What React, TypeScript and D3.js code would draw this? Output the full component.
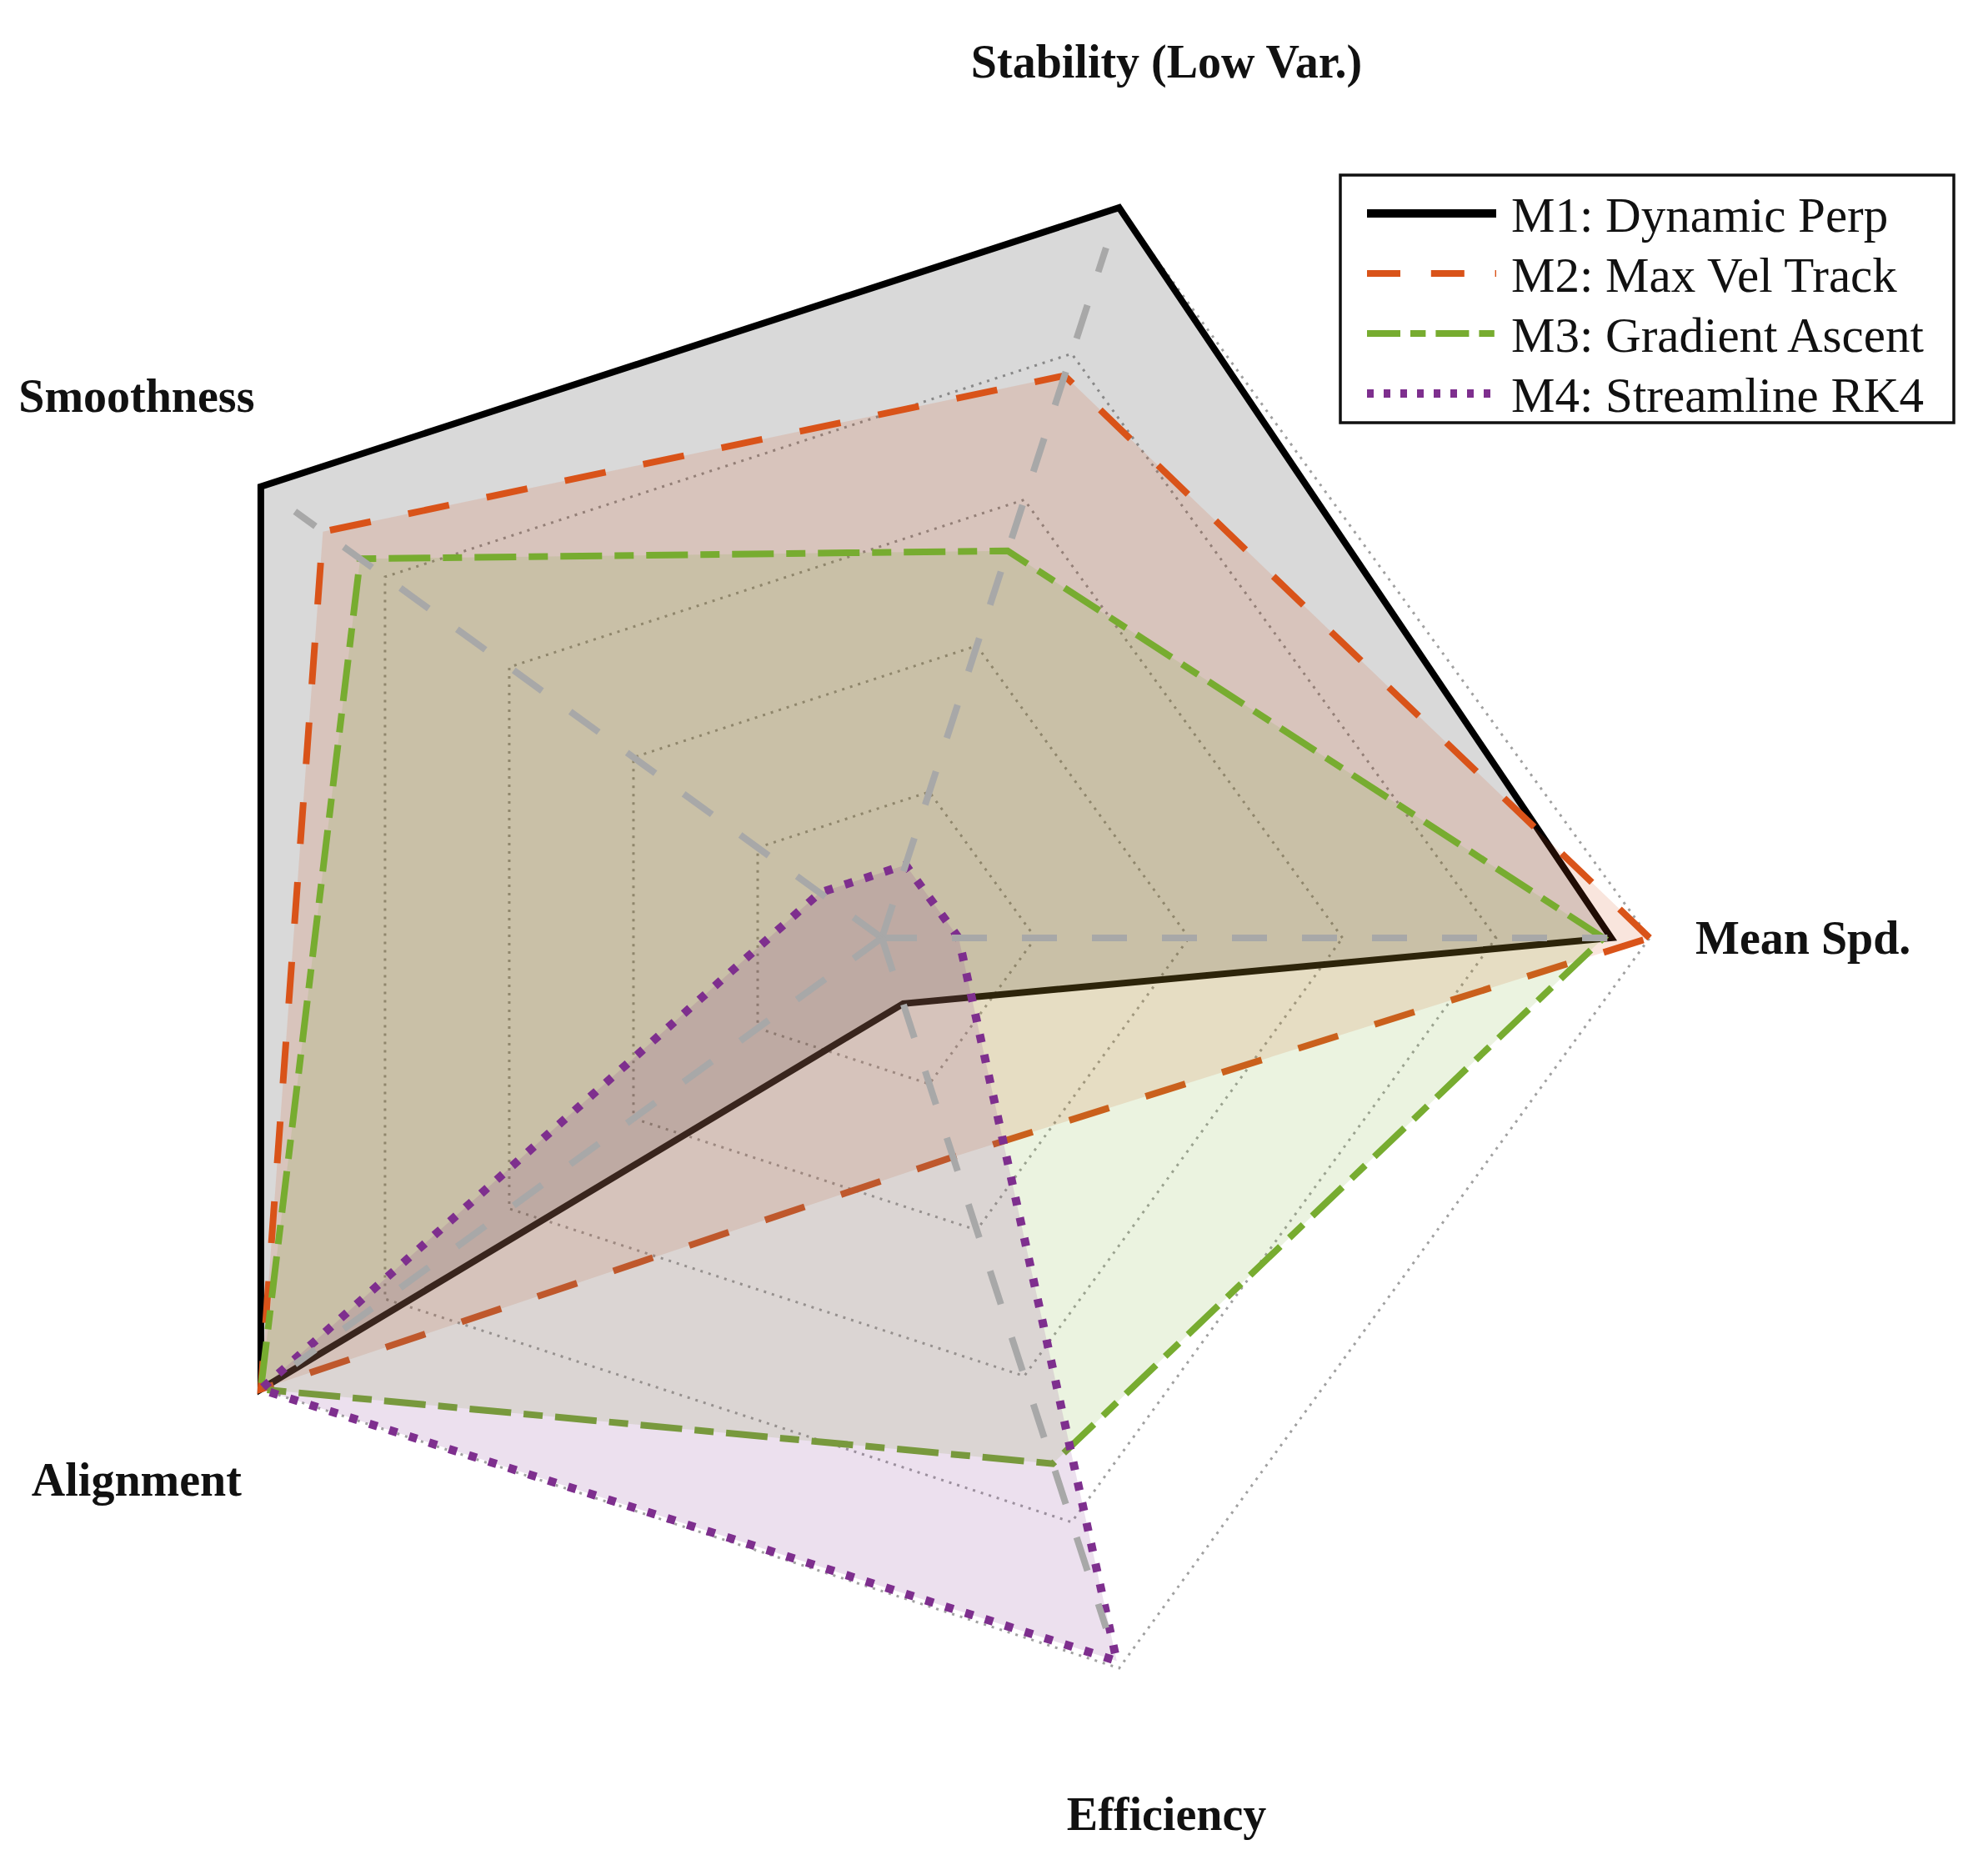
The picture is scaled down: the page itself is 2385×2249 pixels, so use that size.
import React, { useEffect, useRef } from "react";
import * as d3 from "d3";

// axis order: counter-clockwise starting from the right
const axisNames = ["Mean Spd.", "Stability (Low Var.)", "Smoothness", "Alignment", "Efficiency"];
const gridLevels = [0.2, 0.4, 0.6, 0.8, 1.0];

const seriesNames = ["M1: Dynamic Perp", "M2: Max Vel Track", "M3: Gradient Ascent", "M4: Streamline RK4"];
const m1Values = [0.95, 1.0, 1.0, 1.0, 0.09];
const m2Values = [1.0, 0.77, 0.9, 1.0, 0.3];
const m3Values = [0.94, 0.53, 0.84, 1.0, 0.72];
const m4Values = [0.1, 0.1, 0.1, 1.0, 0.99];

const W = 2385;
const H = 2249;

const App = () => {
	const svgRef = useRef(null);

	useEffect(() => {
		const svg = d3.select(svgRef.current);
		svg.selectAll("*").remove();

		const cx = 1058;
		const cy = 1125;
		const r = d3.scaleLinear().domain([0, 1]).range([0, 921]);
		const n = axisNames.length;
		// lineRadial: 0 at 12 o'clock, clockwise
		const ang = (i) => Math.PI / 2 - (i * 2 * Math.PI) / n;
		const px = (i, v) => cx + r(v) * Math.sin(ang(i));
		const py = (i, v) => cy - r(v) * Math.cos(ang(i));

		const radial = d3
			.lineRadial()
			.angle((d, i) => ang(i))
			.radius((d) => r(d))
			.curve(d3.curveLinearClosed);

		const g = svg.append("g").attr("transform", `translate(${cx},${cy})`);

		// pentagon grid (dotted)
		gridLevels.forEach((lv) => {
			g.append("path")
				.attr("d", radial(axisNames.map(() => lv)))
				.attr("fill", "none")
				.attr("stroke", "rgb(160,160,160)")
				.attr("stroke-width", 3)
				.attr("stroke-dasharray", "3 7");
		});

		// radial spokes (dashed)
		axisNames.forEach((name, i) => {
			svg.append("line")
				.attr("x1", cx)
				.attr("y1", cy)
				.attr("x2", px(i, 0.945))
				.attr("y2", py(i, 0.945))
				.attr("stroke", "rgb(168,168,168)")
				.attr("stroke-width", 8)
				.attr("stroke-dasharray", "42 42");
		});

		const series = [
			{ name: seriesNames[0], values: m1Values, color: "#000000", fill: "#000000", width: 8, dash: null },
			{ name: seriesNames[1], values: m2Values, color: "#D95319", fill: "#D95319", width: 8, dash: [50, 46] },
			{ name: seriesNames[2], values: m3Values, color: "#77AC30", fill: "#77AC30", width: 8, dash: [50, 15, 23, 15] },
			{ name: seriesNames[3], values: m4Values, color: "#7E2F8E", fill: "#7E2F8E", width: 10, dash: [10, 15] },
		];

		series.forEach((s) => {
			g.append("path")
				.attr("d", radial(s.values))
				.attr("fill", s.fill)
				.attr("fill-opacity", 0.15)
				.attr("stroke", "none");
			g.append("path")
				.attr("d", radial(s.values))
				.attr("fill", "none")
				.attr("stroke", s.color)
				.attr("stroke-width", s.width)
				.attr("stroke-linejoin", "miter")
				.attr("stroke-dasharray", s.dash ? s.dash.join(" ") : null);
		});

		// axis labels
		axisNames.forEach((name, i) => {
			svg.append("text")
				.attr("x", px(i, 1.2))
				.attr("y", py(i, 1.2))
				.attr("text-anchor", "middle")
				.attr("dominant-baseline", "central")
				.attr("font-family", "'Liberation Serif', 'Times New Roman', serif")
				.attr("font-weight", "bold")
				.attr("font-size", 56)
				.attr("fill", "#111")
				.text(name);
		});

		// legend
		const lg = svg.append("g");
		lg.append("rect")
			.attr("x", 1608)
			.attr("y", 210)
			.attr("width", 736)
			.attr("height", 297)
			.attr("fill", "white")
			.attr("stroke", "#111")
			.attr("stroke-width", 3.5);

		const rowY = d3.scalePoint().domain(seriesNames).range([256, 472]);
		series.forEach((s) => {
			const y = rowY(s.name);
			lg.append("line")
				.attr("x1", 1640)
				.attr("x2", 1795)
				.attr("y1", y)
				.attr("y2", y)
				.attr("stroke", s.color)
				.attr("stroke-width", s.width === 8 && !s.dash ? 10 : s.width)
				.attr("stroke-dasharray", s.dash ? s.dash.map((d) => d * 0.8).join(" ") : null);
			lg.append("text")
				.attr("x", 1813)
				.attr("y", y + 2)
				.attr("dominant-baseline", "central")
				.attr("font-family", "'Liberation Serif', 'Times New Roman', serif")
				.attr("font-size", 59)
				.attr("fill", "#111")
				.text(s.name);
		});
	}, []);

	return (
		<svg
			ref={svgRef}
			width={W}
			height={H}
			style={{ position: "absolute", left: 0, top: 0, background: "white" }}
		></svg>
	);
};

export default App;
